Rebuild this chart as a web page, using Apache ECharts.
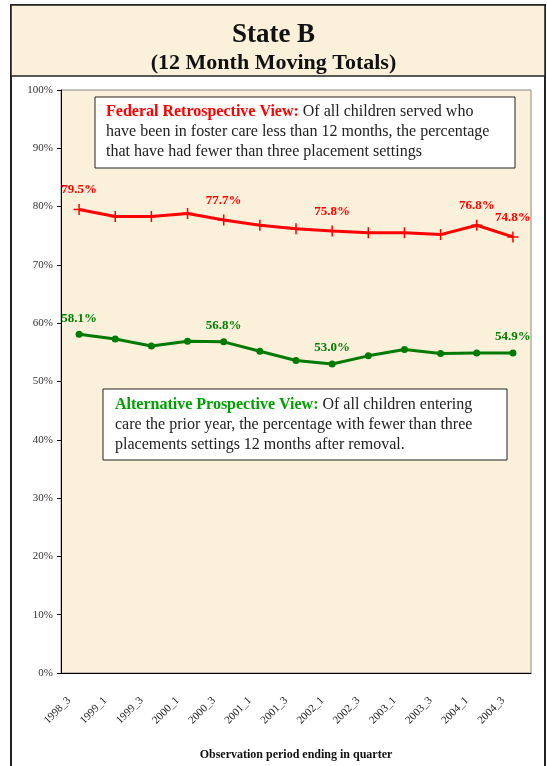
<!DOCTYPE html>
<html>
<head>
<meta charset="utf-8">
<script src="https://cdn.jsdelivr.net/npm/echarts@6/dist/echarts.min.js"></script>
<style>
  html, body { margin: 0; padding: 0; background: #fff; }
  #chart { width: 547px; height: 766px; }
</style>
</head>
<body>
<div id="chart"></div>
<script>
// quarters on the x axis
const categories = ['1998_3', '1999_1', '1999_3', '2000_1', '2000_3', '2001_1', '2001_3',
  '2002_1', '2002_3', '2003_1', '2003_3', '2004_1', '2004_3'];
// percentages
const federal = [79.5, 78.3, 78.3, 78.8, 77.7, 76.8, 76.2, 75.8, 75.5, 75.5, 75.2, 76.8, 74.8];
const alternative = [58.1, 57.3, 56.1, 56.9, 56.8, 55.2, 53.6, 53.0, 54.4, 55.5, 54.8, 54.9, 54.9];
// which points carry a value label
const federalLabeled = [0, 4, 7, 11, 12];
const alternativeLabeled = [0, 4, 7, 12];

const serif = '"Liberation Serif", "DejaVu Serif", serif';
const parchment = '#FBF0D9';

const chart = echarts.init(document.getElementById('chart'));

function labelFor(idx) {
  return (p) => idx.includes(p.dataIndex) ? p.value.toFixed(1) + '%' : '';
}

chart.setOption({
  backgroundColor: '#fff',
  animation: false,
  title: [
    {
      text: 'State B', left: 'center', top: 17,
      textStyle: { fontSize: 27, fontWeight: 'bold', fontFamily: serif, color: '#111' }
    },
    {
      text: '(12 Month Moving Totals)', left: 'center', top: 47,
      textStyle: { fontSize: 22, fontWeight: 'bold', fontFamily: serif, color: '#111' }
    }
  ],
  grid: {
    left: 61, right: 16, top: 90, bottom: 90,
    show: true, backgroundColor: parchment, borderColor: '#888', borderWidth: 1
  },
  xAxis: {
    type: 'category',
    data: categories,
    boundaryGap: true,
    name: 'Observation period ending in quarter',
    nameLocation: 'middle',
    nameGap: 76,
    nameTextStyle: { fontFamily: serif, fontWeight: 'bold', fontSize: 12, color: '#111' },
    axisLine: { lineStyle: { color: '#000', width: 1 } },
    axisTick: { length: 4, lineStyle: { color: '#000' } },
    axisLabel: {
      rotate: 45, margin: 16, interval: 0,
      formatter: (v) => '{a|' + v + '}',
      rich: { a: { fontFamily: serif, fontSize: 11, color: '#222', padding: [0, 14, 0, 0] } }
    }
  },
  yAxis: {
    type: 'value',
    min: 0, max: 100, interval: 10,
    axisLine: { show: true, lineStyle: { color: '#000', width: 1 } },
    axisTick: { show: true, length: 4, lineStyle: { color: '#000' } },
    splitLine: { show: false },
    axisLabel: { formatter: '{value}%', fontFamily: serif, fontSize: 11, color: '#333', margin: 8 }
  },
  graphic: [
    {
      type: 'rect', z: -10, silent: true,
      shape: { x: 11, y: 5, width: 534, height: 780 },
      style: { fill: '#fff', stroke: '#222', lineWidth: 2 }
    },
    {
      type: 'rect', z: -9, silent: true,
      shape: { x: 11, y: 5, width: 534, height: 71 },
      style: { fill: parchment, stroke: '#222', lineWidth: 1.5 }
    },
    {
      type: 'rect', z: 10, silent: true,
      shape: { x: 95, y: 97, width: 420, height: 71 },
      style: { fill: '#fff', stroke: '#222', lineWidth: 1 }
    },
    {
      type: 'text', z: 11, silent: true, x: 106, y: 102,
      style: {
        text: '{r|Federal Retrospective View:}{n| Of all children served who}\n' +
              '{n|have been in foster care less than 12 months, the percentage}\n' +
              '{n|that have had fewer than three placement settings}',
        rich: {
          r: { fill: '#FF0000', fontWeight: 'bold', fontSize: 16, fontFamily: serif, lineHeight: 20 },
          n: { fill: '#222', fontSize: 16, fontFamily: serif, lineHeight: 20 }
        }
      }
    },
    {
      type: 'rect', z: 10, silent: true,
      shape: { x: 103, y: 389, width: 404, height: 71 },
      style: { fill: '#fff', stroke: '#222', lineWidth: 1 }
    },
    {
      type: 'text', z: 11, silent: true, x: 115, y: 395,
      style: {
        text: '{g|Alternative Prospective View:}{n| Of all children entering}\n' +
              '{n|care the prior year, the percentage with fewer than three}\n' +
              '{n|placements settings 12 months after removal.}',
        rich: {
          g: { fill: '#00A000', fontWeight: 'bold', fontSize: 16, fontFamily: serif, lineHeight: 20 },
          n: { fill: '#222', fontSize: 16, fontFamily: serif, lineHeight: 20 }
        }
      }
    }
  ],
  series: [
    {
      name: 'Federal Retrospective View',
      type: 'line',
      data: federal,
      symbol: 'path://M0,5L10,5M5,0L5,10',
      symbolSize: 11,
      itemStyle: { color: 'none', borderColor: '#FF0000', borderWidth: 1.5 },
      lineStyle: { color: '#FF0000', width: 3 },
      label: {
        show: true, position: 'top', distance: 5,
        formatter: labelFor(federalLabeled),
        color: '#FF0000', fontFamily: serif, fontWeight: 'bold', fontSize: 13
      }
    },
    {
      name: 'Alternative Prospective View',
      type: 'line',
      data: alternative,
      symbol: 'circle',
      symbolSize: 7,
      itemStyle: { color: '#007A00', borderWidth: 0 },
      lineStyle: { color: '#007A00', width: 3 },
      label: {
        show: true, position: 'top', distance: 6,
        formatter: labelFor(alternativeLabeled),
        color: '#008000', fontFamily: serif, fontWeight: 'bold', fontSize: 13
      }
    }
  ]
});
</script>
</body>
</html>
